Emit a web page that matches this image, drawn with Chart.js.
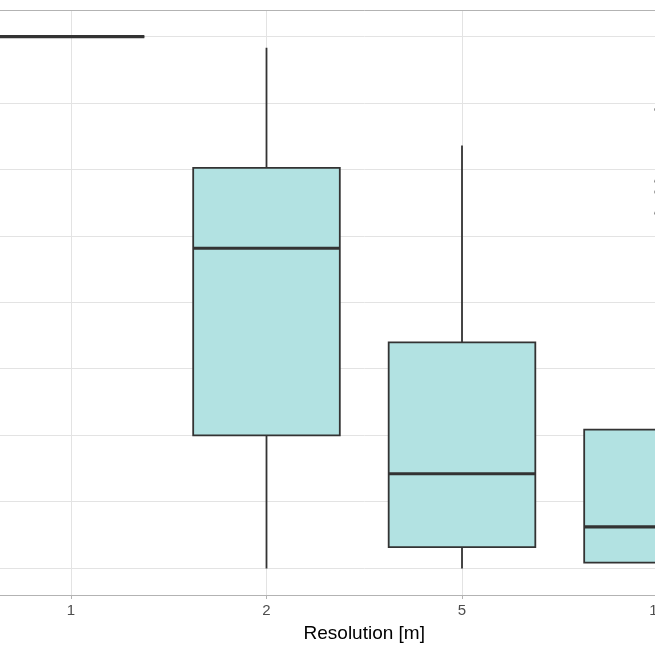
<!DOCTYPE html>
<html><head><meta charset="utf-8">
<script src="https://cdn.jsdelivr.net/npm/chart.js@4/dist/chart.umd.min.js"></script>
<style>
html,body{margin:0;padding:0;width:655px;height:655px;overflow:hidden;background:#fff;}
#wrap{position:absolute;left:-100px;top:0;width:900px;height:655px;}
</style></head><body>
<div id="wrap"><canvas id="c" width="900" height="655"></canvas></div>
<script>
// ---- data ----
const categories = ['1', '2', '5', '10'];
const whiskerLow  = [1, 0, 0, 0];
const q1          = [1, 0.25, 0.04, 0.011];
const median      = [1, 0.602, 0.178, 0.078];
const q3          = [1, 0.753, 0.425, 0.261];
const whiskerHigh = [1, 0.979, 0.795, 0.55];
const outlierCategory = [3, 3, 3, 3];
const outlierValues   = [0.863, 0.728, 0.708, 0.668];
const yTicks = [0, 0.125, 0.25, 0.375, 0.5, 0.625, 0.75, 0.875, 1];
const xTitle = 'Resolution [m]';

const FONT = "'Liberation Sans', Arial, sans-serif";
const BOX_HALF = 0.375;

const boxPlugin = {
  id: 'boxplot',
  beforeDatasetsDraw(chart) {
    const {ctx, chartArea: a, scales: {x, y}} = chart;
    ctx.save();
    ctx.strokeStyle = '#b3b3b3';
    ctx.lineWidth = 1;
    ctx.beginPath();
    const ty = Math.round(a.top) + 0.5;
    ctx.moveTo(a.left, ty); ctx.lineTo(a.right, ty);
    ctx.stroke();
    ctx.beginPath();
    ctx.rect(a.left, a.top, a.right - a.left, a.bottom - a.top);
    ctx.clip();
    ctx.strokeStyle = '#333333';
    ctx.lineWidth = 1.8;
    categories.forEach((c, i) => {
      const px = x.getPixelForValue(i);
      ctx.beginPath();
      ctx.moveTo(px, y.getPixelForValue(whiskerHigh[i]));
      ctx.lineTo(px, y.getPixelForValue(q3[i]));
      ctx.moveTo(px, y.getPixelForValue(q1[i]));
      ctx.lineTo(px, y.getPixelForValue(whiskerLow[i]));
      ctx.stroke();
    });
    ctx.restore();
  },
  afterDatasetsDraw(chart) {
    const {ctx, chartArea: a, scales: {x, y}} = chart;
    ctx.save();
    ctx.beginPath();
    ctx.rect(a.left, a.top, a.right - a.left, a.bottom - a.top);
    ctx.clip();
    ctx.strokeStyle = '#333333';
    categories.forEach((c, i) => {
      const x0 = x.getPixelForValue(i - BOX_HALF);
      const x1 = x.getPixelForValue(i + BOX_HALF);
      const yTop = y.getPixelForValue(q3[i]);
      const yBot = y.getPixelForValue(q1[i]);
      ctx.lineWidth = 1.8;
      ctx.beginPath();
      ctx.rect(x0, yTop, x1 - x0, yBot - yTop);
      ctx.stroke();
      const py = y.getPixelForValue(median[i]);
      ctx.lineWidth = 3.2;
      ctx.beginPath();
      ctx.moveTo(x0, py); ctx.lineTo(x1, py);
      ctx.stroke();
    });
    ctx.restore();
  }
};

new Chart(document.getElementById('c'), {
  type: 'bar',
  data: {
    datasets: [
      {
        type: 'bar',
        data: categories.map((c, i) => ({x: i, y: [q1[i], q3[i]]})),
        backgroundColor: '#b2e2e2',
        borderWidth: 0,
        borderSkipped: false,
        barPercentage: BOX_HALF * 2,
        categoryPercentage: 1.0
      },
      {
        type: 'scatter',
        data: outlierValues.map((v, i) => ({x: outlierCategory[i], y: v})),
        backgroundColor: '#333333',
        borderColor: '#333333',
        pointRadius: 3,
        borderWidth: 0
      }
    ]
  },
  options: {
    responsive: false,
    animation: false,
    devicePixelRatio: 1,
    layout: {padding: {left: 53.7, right: 25.2, top: 10, bottom: 0}},
    plugins: {legend: {display: false}, tooltip: {enabled: false}},
    scales: {
      x: {
        type: 'linear',
        min: -0.6, max: 3.6,
        offset: false,
        afterBuildTicks: s => { s.ticks = categories.map((c, i) => ({value: i})); },
        afterFit: s => { s.height = 60; },
        ticks: {
          autoSkip: false, maxRotation: 0, padding: 3,
          color: '#4d4d4d',
          font: {family: FONT, size: 15},
          callback: v => categories[v]
        },
        grid: {color: '#e3e3e3', lineWidth: 1, tickColor: '#b3b3b3', tickLength: 4, offset: false},
        border: {display: true, color: '#b3b3b3', width: 1},
        title: {display: true, text: xTitle, color: '#000000', font: {family: FONT, size: 19}, padding: {top: 0, bottom: 10}}
      },
      y: {
        type: 'linear',
        min: -0.05, max: 1.05,
        afterBuildTicks: s => { s.ticks = yTicks.map(v => ({value: v})); },
        afterFit: s => { s.width = 0; },
        ticks: {display: false},
        grid: {color: '#e3e3e3', lineWidth: 1, drawTicks: false},
        border: {display: false}
      }
    }
  },
  plugins: [boxPlugin]
});
</script>
</body></html>
